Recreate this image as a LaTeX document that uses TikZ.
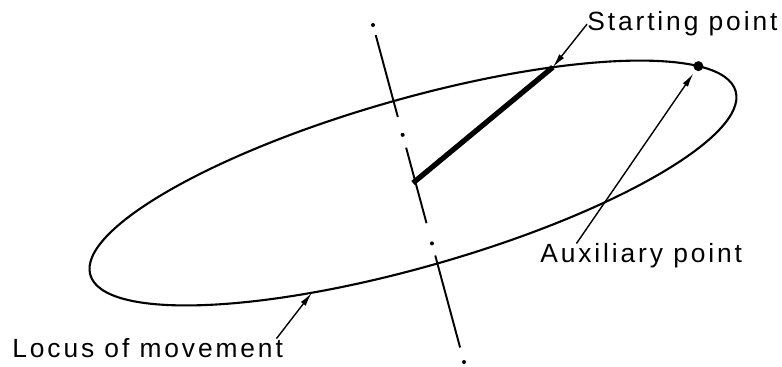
\documentclass[tikz,border=0pt]{standalone}
\usepackage{fontspec}
\setmainfont{Liberation Sans}[LetterSpace=11]
\usetikzlibrary{arrows.meta,calc}
\tikzset{
  locus/.style={line width=1.2pt},
  axisline/.style={line width=1.1pt},
  crank/.style={line width=3pt},
  lbl/.style={inner sep=0pt, font=\fontsize{15}{18}\selectfont},
  arr/.style={-{Latex[length=8pt,width=3.5pt]}, line width=0.8pt}
}
\begin{document}
\begin{tikzpicture}[x=0.02cm, y=0.02cm]
  \useasboundingbox (0,0) rectangle (782,367);
  % locus of movement
  \coordinate (centre) at (413,184);
  \draw[locus, rotate around={15.9:(centre)}] (centre) ellipse [x radius=335.5, y radius=84.1];
  \begin{scope}[shift={(centre)}, rotate=15.9]
    \coordinate (start)   at (60.3:335.5 and 84.1);
    \coordinate (aux)     at (24:335.5 and 84.1);
    \coordinate (onlocus) at (247.7:335.5 and 84.1);
  \end{scope}

  % centre line (dash-dot)
  \coordinate (axtop) at (373,342);
  \coordinate (axbot) at (464,5);
  \foreach \a/\b in {0.03/0.273, 0.364/0.588, 0.684/0.957}
    \draw[axisline] ($(axtop)!\a!(axbot)$) -- ($(axtop)!\b!(axbot)$);
  \foreach \t in {0, 0.326, 0.648, 1}
    \fill ($(axtop)!\t!(axbot)$) circle [radius=2];

  % crank and points
  \draw[crank] (centre) -- (start);
  \fill (aux) circle [radius=5];

  % labels
  \node[lbl, anchor=base west] (startlbl) at (587,336) {Starting point};
  \node[lbl, anchor=base west] (auxlbl)   at (540,104) {Auxiliary point};
  \node[lbl, anchor=base west] (locuslbl) at (12,9)    {Locus of movement};

  \draw[arr] (startlbl.west) -- (start);
  \draw[arr, shorten >=5pt] ($(auxlbl.north west)!0.18!(auxlbl.north east)$) -- (aux);
  \draw[arr] ($(locuslbl.north west)!0.975!(locuslbl.north east)$) -- (onlocus);
\end{tikzpicture}
\end{document}
